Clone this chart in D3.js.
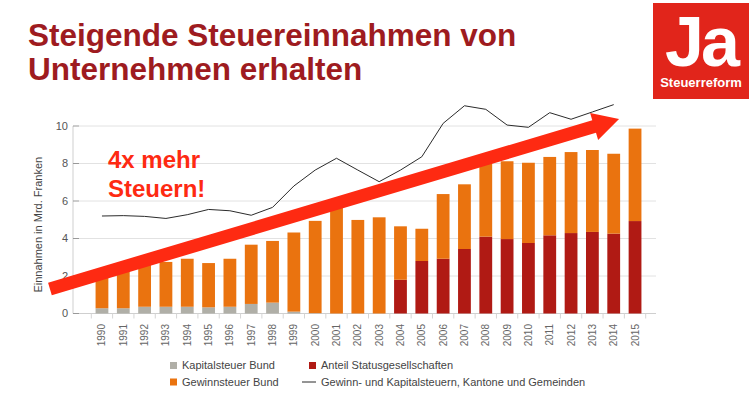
<!DOCTYPE html>
<html>
<head>
<meta charset="utf-8">
<script src="https://cdn.jsdelivr.net/npm/d3@7"></script>
<style>
  body { margin: 0; background: #fff; }
  svg { display: block; font-family: "Liberation Sans", Arial, sans-serif; }
</style>
</head>
<body>
<svg id="chart" width="756" height="396"></svg>
<script>
// data (Mrd. Franken)
const years = [1990,1991,1992,1993,1994,1995,1996,1997,1998,1999,2000,2001,2002,
  2003,2004,2005,2006,2007,2008,2009,2010,2011,2012,2013,2014,2015];
const kapitalsteuer = [0.28,0.28,0.36,0.36,0.36,0.33,0.36,0.51,0.58,0.10,0.02,0,0,
  0,0,0,0,0,0,0,0,0,0,0,0,0];
const statusges = [0,0,0,0,0,0,0,0,0,0,0,0,0,
  0,1.80,2.80,2.92,3.44,4.10,3.97,3.76,4.17,4.29,4.35,4.26,4.93];
const gewinnsteuer = [1.74,1.99,2.37,2.39,2.56,2.36,2.56,3.16,3.29,4.22,4.92,5.85,4.99,
  5.13,2.85,1.72,3.45,3.45,4.39,4.15,4.28,4.18,4.32,4.37,4.26,4.93];
const kantone = [5.2,5.22,5.18,5.07,5.27,5.55,5.48,5.24,5.66,6.8,7.65,8.28,7.65,
  7.03,7.65,8.36,10.14,11.08,10.89,10.05,9.93,10.71,10.36,10.75,11.14];
const yTicks = [0,2,4,6,8,10];

const seriesKeys = ["kapital", "status", "gewinn"];
const colors = {kapital: "#b0afa7", status: "#b01a14", gewinn: "#ea730f"};

const svg = d3.select("#chart");
const axisX = 73, plotRight = 656;

const x = d3.scaleBand().domain(years).range([91.3, 645.7]).paddingInner(0.4).paddingOuter(0.2);
const y = d3.scaleLinear().domain([0, 10]).range([313.5, 126]);
const cx = d => x(d) + x.bandwidth() / 2;

// title
const title = svg.append("text").attr("fill", "#9e1b20").attr("font-weight", "bold")
  .attr("font-size", 31.5);
title.append("tspan").attr("x", 28).attr("y", 46).text("Steigende Steuereinnahmen von");
title.append("tspan").attr("x", 28).attr("y", 80).text("Unternehmen erhalten");

// logo
const logo = svg.append("g");
logo.append("rect").attr("x", 653).attr("y", 3).attr("width", 96).attr("height", 96).attr("fill", "#e1251b");
logo.append("text").attr("x", 701).attr("y", 66).attr("text-anchor", "middle")
  .attr("fill", "#fff").attr("font-weight", "bold").attr("font-size", 70)
  .attr("letter-spacing", -3).text("Ja");
logo.append("text").attr("x", 701).attr("y", 87).attr("text-anchor", "middle")
  .attr("fill", "#fff").attr("font-weight", "bold").attr("font-size", 13).text("Steuerreform");

// gridlines + y axis
const grid = svg.append("g");
grid.selectAll("line.grid").data(yTicks.filter(d => d > 0)).join("line")
  .attr("x1", axisX + 6).attr("x2", plotRight)
  .attr("y1", d => y(d)).attr("y2", d => y(d))
  .attr("stroke", "#e2e2e2");
grid.append("line").attr("x1", axisX).attr("x2", axisX).attr("y1", y(10)).attr("y2", y(0))
  .attr("stroke", "#cfcfcf");
grid.selectAll("line.tick").data(yTicks).join("line")
  .attr("x1", axisX).attr("x2", axisX + 6)
  .attr("y1", d => y(d)).attr("y2", d => y(d))
  .attr("stroke", "#999");
grid.selectAll("text").data(yTicks).join("text")
  .attr("x", 68).attr("y", d => y(d)).attr("dy", "0.35em").attr("text-anchor", "end")
  .attr("font-size", 11).attr("fill", "#555").text(d => d);

svg.append("text")
  .attr("transform", `translate(42,${(y(0) + y(10)) / 2 + 5}) rotate(-90)`)
  .attr("text-anchor", "middle").attr("font-size", 11).attr("fill", "#444")
  .text("Einnahmen in Mrd. Franken");

// x axis
svg.append("line").attr("x1", axisX + 6).attr("x2", plotRight).attr("y1", y(0)).attr("y2", y(0))
  .attr("stroke", "#cfcfcf");
const step = x.step();
svg.selectAll("line.xtick").data(years.concat([null])).join("line")
  .attr("x1", (d, i) => x(years[0]) - step * 0.2 + i * step)
  .attr("x2", (d, i) => x(years[0]) - step * 0.2 + i * step)
  .attr("y1", y(0)).attr("y2", y(0) + 5)
  .attr("stroke", "#d5d5d5");
svg.selectAll("text.year").data(years).join("text")
  .attr("transform", d => `translate(${cx(d) + 3.5},324) rotate(-90)`)
  .attr("text-anchor", "end").attr("font-size", 10).attr("fill", "#666")
  .text(d => d);

// stacked bars
const rows = years.map((yr, i) => ({year: yr, kapital: kapitalsteuer[i], status: statusges[i], gewinn: gewinnsteuer[i]}));
const stacked = d3.stack().keys(seriesKeys)(rows);
svg.append("g").selectAll("g").data(stacked).join("g")
  .attr("fill", s => colors[s.key])
  .selectAll("rect").data(s => s).join("rect")
  .attr("x", d => x(d.data.year))
  .attr("width", x.bandwidth())
  .attr("y", d => y(d[1]))
  .attr("height", d => y(d[0]) - y(d[1]));

// line Kantone und Gemeinden
svg.append("path")
  .datum(kantone.map((v, i) => [years[i], v]))
  .attr("fill", "none").attr("stroke", "#2b2b2b").attr("stroke-width", 1)
  .attr("d", d3.line().x(d => cx(d[0])).y(d => y(d[1])));

// big arrow annotation (year index, value)
const xi = d3.scaleLinear().domain([0, years.length - 1]).range([cx(years[0]), cx(years[years.length - 1])]);
const arrowFrom = [-2.44, 1.31], arrowTo = [24.25, 10.37];
const p0 = [xi(arrowFrom[0]), y(arrowFrom[1])], p1 = [xi(arrowTo[0]), y(arrowTo[1])];
const len = Math.hypot(p1[0] - p0[0], p1[1] - p0[1]);
const ang = Math.atan2(p1[1] - p0[1], p1[0] - p0[0]) * 180 / Math.PI;
const shaft = 6.5, headLen = 26, headW = 14;
svg.append("path")
  .attr("transform", `translate(${p0[0]},${p0[1]}) rotate(${ang})`)
  .attr("fill", "#fe2a12")
  .attr("d", `M0,${-shaft}L${len - headLen},${-shaft}L${len - headLen},${-headW}L${len},0` +
    `L${len - headLen},${headW}L${len - headLen},${shaft}L0,${shaft}Z`);

const note = svg.append("text").attr("fill", "#fe2a12").attr("font-weight", "bold").attr("font-size", 24);
note.append("tspan").attr("x", 108).attr("y", 168).text("4x mehr");
note.append("tspan").attr("x", 108).attr("y", 197).text("Steuern!");

// legend
const legend = svg.append("g").attr("font-size", 11).attr("fill", "#444");
const legendItems = [
  {label: "Kapitalsteuer Bund", key: "kapital", lx: 170, ly: 365.5},
  {label: "Gewinnsteuer Bund", key: "gewinn", lx: 170, ly: 382},
  {label: "Anteil Statusgesellschaften", key: "status", lx: 309, ly: 365.5},
  {label: "Gewinn- und Kapitalsteuern, Kantone und Gemeinden", key: null, lx: 309, ly: 382}
];
legendItems.forEach(it => {
  if (it.key) {
    legend.append("rect").attr("x", it.lx).attr("y", it.ly - 3.5).attr("width", 7).attr("height", 7)
      .attr("fill", colors[it.key]);
  } else {
    legend.append("line").attr("x1", it.lx - 7).attr("x2", it.lx + 7).attr("y1", it.ly).attr("y2", it.ly)
      .attr("stroke", "#2b2b2b");
  }
  legend.append("text").attr("x", it.lx + 12).attr("y", it.ly).attr("dy", "0.35em").text(it.label);
});
</script>
</body>
</html>
